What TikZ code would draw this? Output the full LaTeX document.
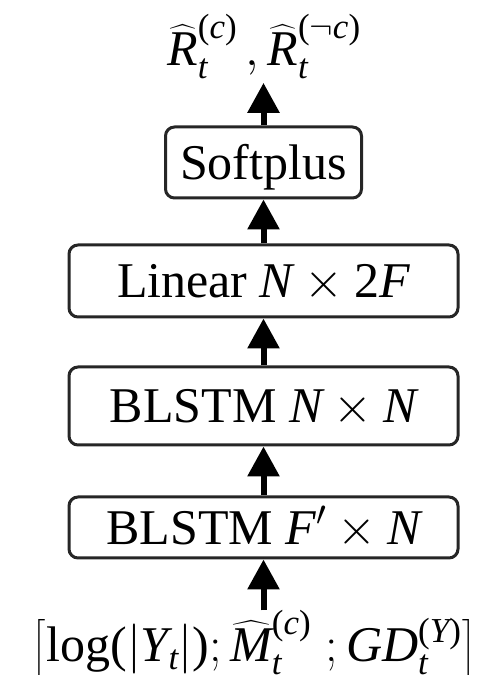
\RequirePackage{fix-cm}
\documentclass[tikz,border=0pt]{standalone}
\usepackage{amsmath}
\usepackage{fontspec}
\setmainfont{Liberation Serif}
\usetikzlibrary{arrows.meta}
% italic and upright symbols set in the serif text face
\newcommand{\vi}[1]{\text{\itshape #1}}
\newcommand{\vu}[1]{\text{\upshape #1}}
% square brackets of a fixed height
\newcommand{\lbrk}{{\nulldelimiterspace=0pt\left[\vcenter to 62pt{}\right.}}
\newcommand{\rbrk}{{\nulldelimiterspace=0pt\left.\vcenter to 62pt{}\right]}}
\begin{document}
\begin{tikzpicture}[x=1pt,y=1pt,
  layer/.style={draw=black!85, line width=3pt, rounded corners=9pt, fill=white,
    font=\fontsize{50}{60}\selectfont, text height=34pt, text depth=0pt, inner sep=0pt},
  flow/.style={line width=6pt, -{Triangle[width=31pt,length=30pt]}},
  lbl/.style={font=\fontsize{50}{60}\selectfont, inner sep=0pt}]
\useasboundingbox (0,0) rectangle (479,675);
% network layers, bottom to top
\node[layer, minimum width=389pt, minimum height=61pt] (b1) at (263.5,147.5) {BLSTM $\vi{F}'\times\vi{N}$};
\node[layer, minimum width=389pt, minimum height=78pt] (b2) at (263.5,269) {BLSTM $\vi{N}\times\vi{N}$};
\node[layer, minimum width=389pt, minimum height=72pt] (lin) at (263.5,394) {Linear $\vi{N}\times\vu{2}\vi{F}$};
\node[layer, minimum width=196pt, minimum height=71pt] (sp) at (263.5,512.5) {Softplus};
% output and input features
\node[lbl, anchor=base] (out) at (264,609)
  {$\widehat{\vi{R}}_{\vi{t}}^{\vu{(}\vi{c}\vu{)}}\,,\widehat{\vi{R}}_{\vi{t}}^{\vu{(}\neg\vi{c}\vu{)}}$};
\node[lbl, anchor=base] (in) at (254,13)
  {$\lbrk\vu{log(}|\vi{Y}_{\vi{t}}|\vu{)};\widehat{\vi{M}}_{\vi{t}}^{\vu{(}\vi{c}\vu{)}}\;;\vi{GD}_{\vi{t}}^{\vu{(}\vi{Y}\vu{)}}\rbrk$};
% data flow
\draw[flow] (in.north -| b1.south) -- (b1.south);
\draw[flow] (b1.north) -- (b2.south);
\draw[flow] (b2.north) -- (lin.south);
\draw[flow] (lin.north) -- (sp.south);
\draw[flow, shorten >=4pt] (sp.north) -- (sp.north |- out.south);
\end{tikzpicture}
\end{document}
